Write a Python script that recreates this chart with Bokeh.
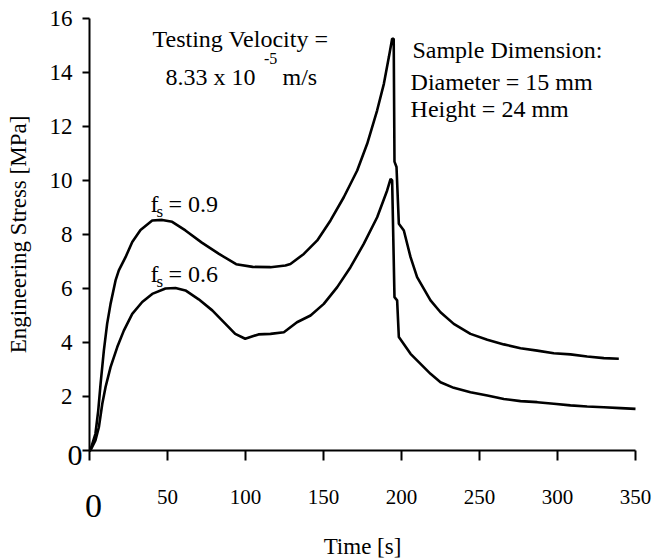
from bokeh.plotting import figure
from bokeh.models import Label, FixedTicker, Range1d
from bokeh.embed import file_html
from bokeh.resources import INLINE

# ---- data ----
time_fs09 = [0, 0.6, 3.8, 5.6, 7.1, 9.2, 11.3, 13.5, 16.7, 18.8, 23.1, 27.4, 32.7, 40.2, 46.6,
             53, 61.5, 72, 83, 94, 104.6, 116, 125.6, 128.8, 137.4, 146, 154.5, 163, 171.6,
             178, 184.4, 188.7, 191.9, 194, 195, 195.5, 196.8, 198.3, 201.5, 205.8, 210, 218.6,
             225, 233.5, 244.2, 255, 265.6, 276.3, 287, 297.6, 308.3, 319, 329.7, 339.3]
stress_fs09 = [0, 0.02, 0.62, 1.48, 2.47, 3.7, 4.69, 5.43, 6.3, 6.67, 7.16, 7.72, 8.17, 8.52, 8.54,
               8.47, 8.15, 7.7, 7.28, 6.9, 6.8, 6.79, 6.85, 6.91, 7.28, 7.78, 8.52, 9.38, 10.37,
               11.36, 12.6, 13.58, 14.57, 15.25, 15.25, 10.7, 10.5, 8.4, 8.15, 7.16, 6.42, 5.56,
               5.12, 4.69, 4.32, 4.1, 3.93, 3.79, 3.7, 3.6, 3.56, 3.48, 3.42, 3.4]

time_fs06 = [0, 0.6, 3.8, 6, 8.2, 10.3, 13.5, 17.8, 22, 27.4, 33.8, 40.2, 48.7, 55.1, 61.5, 70,
             78.7, 87, 93.4, 99.8, 108.3, 116, 124.6, 133, 141.7, 150.2, 158.8, 167.3, 175.8,
             184.4, 190.8, 193, 194, 195.5, 197.2, 198.3, 205.8, 212.2, 218.6, 225, 233.5,
             244.2, 255, 265.6, 276.3, 287, 297.6, 308.3, 319, 329.7, 340.4, 350]
stress_fs06 = [0, 0.0, 0.37, 0.86, 1.73, 2.35, 3.09, 3.83, 4.44, 5.06, 5.5, 5.8, 6.0, 6.02, 5.93, 5.6,
               5.19, 4.7, 4.32, 4.14, 4.3, 4.32, 4.38, 4.75, 5.0, 5.43, 6.05, 6.79, 7.65,
               8.64, 9.63, 10.06, 10.0, 5.68, 5.56, 4.2, 3.58, 3.21, 2.84, 2.53, 2.32,
               2.16, 2.04, 1.91, 1.83, 1.79, 1.73, 1.67, 1.63, 1.6, 1.57, 1.54]

x_ticks = [0, 50, 100, 150, 200, 250, 300, 350]
y_ticks = [0, 2, 4, 6, 8, 10, 12, 14, 16]
x_axis_span = (0, 350)
y_axis_span = (0, 16)

FONT = "Liberation Serif"
W, H = 666, 560
# pixel placement of the axis box inside the canvas
AX_L, AX_R, AX_T, AX_B = 89, 635, 18, 450
px_per_x = (AX_R - AX_L) / (x_axis_span[1] - x_axis_span[0])
px_per_y = (AX_B - AX_T) / (y_axis_span[1] - y_axis_span[0])
x_range = Range1d(x_axis_span[0] - AX_L / px_per_x, x_axis_span[1] + (W - AX_R) / px_per_x)
y_range = Range1d(y_axis_span[0] - (H - AX_B) / px_per_y, y_axis_span[1] + AX_T / px_per_y)

p = figure(width=W, height=H, x_range=x_range, y_range=y_range,
           output_backend="svg", toolbar_location=None,
           min_border_left=0, min_border_right=0, min_border_top=0, min_border_bottom=0)
p.outline_line_color = None
p.grid.visible = False
p.background_fill_color = "white"
p.border_fill_color = "white"

p.line(time_fs09, stress_fs09, line_color="black", line_width=2.6)
p.line(time_fs06, stress_fs06, line_color="black", line_width=2.6)

# axes (drawn at the data origin, limited to the data span)
xa = p.xaxis[0]
xa.fixed_location = 0
xa.bounds = x_axis_span
xa.ticker = FixedTicker(ticks=x_ticks)
xa.major_label_overrides = {0: ""}
xa.minor_tick_line_color = None
xa.major_tick_out = 10
xa.major_tick_in = 0
xa.axis_line_width = 2
xa.major_tick_line_width = 2
xa.major_label_standoff = 29
xa.major_label_text_font = FONT
xa.major_label_text_font_size = "21px"
xa.major_label_text_color = "black"
xa.axis_label = "Time [s]"
xa.axis_label_text_font = FONT
xa.axis_label_text_font_style = "normal"
xa.axis_label_text_font_size = "23px"
xa.axis_label_standoff = 27
xa.axis_label_text_color = "black"

ya = p.yaxis[0]
ya.fixed_location = 0
ya.bounds = y_axis_span
ya.ticker = FixedTicker(ticks=y_ticks)
ya.major_label_overrides = {0: ""}
ya.minor_tick_line_color = None
ya.major_tick_out = 7
ya.major_tick_in = 0
ya.axis_line_width = 2
ya.major_tick_line_width = 2
ya.major_label_standoff = 10
ya.major_label_text_font = FONT
ya.major_label_text_font_size = "23px"
ya.major_label_text_color = "black"
ya.axis_label = "Engineering Stress [MPa]"
ya.axis_label_text_font = FONT
ya.axis_label_text_font_style = "normal"
ya.axis_label_text_font_size = "23px"
ya.axis_label_standoff = 16
ya.axis_label_text_color = "black"


def lab(x, y, text, size_px, align="left"):
    # small upward correction so the rendered baseline sits at y
    y_adj = y + 0.34 * size_px / px_per_y
    p.add_layout(Label(x=x, y=y_adj, text=text, text_font=FONT, text_font_size=f"{size_px}px",
                       text_align=align, text_baseline="alphabetic", text_color="black"))


# large zero labels at the origin
lab(2.56, -2.48, "0", 34, align="center")
lab(-4.49, -0.56, "0", 30, align="right")

# annotations
lab(40.4, 14.93, "Testing Velocity =", 24)
lab(48.7, 13.52, "8.33 x 10", 24)
lab(111.8, 14.3, "-5", 16)
lab(123.7, 13.52, "m/s", 24)

lab(207, 14.52, "Sample Dimension:", 24)
lab(205.8, 13.33, "Diameter = 15 mm", 24)
lab(205.8, 12.33, "Height = 24 mm", 24)

lab(39.1, 8.81, "f", 24)
lab(43.0, 8.62, "s", 17)
lab(50.6, 8.81, "= 0.9", 24)

lab(39.1, 6.22, "f", 24)
lab(43.0, 6.03, "s", 17)
lab(50.6, 6.22, "= 0.6", 24)

open("out.html", "w").write(file_html(p, INLINE))
